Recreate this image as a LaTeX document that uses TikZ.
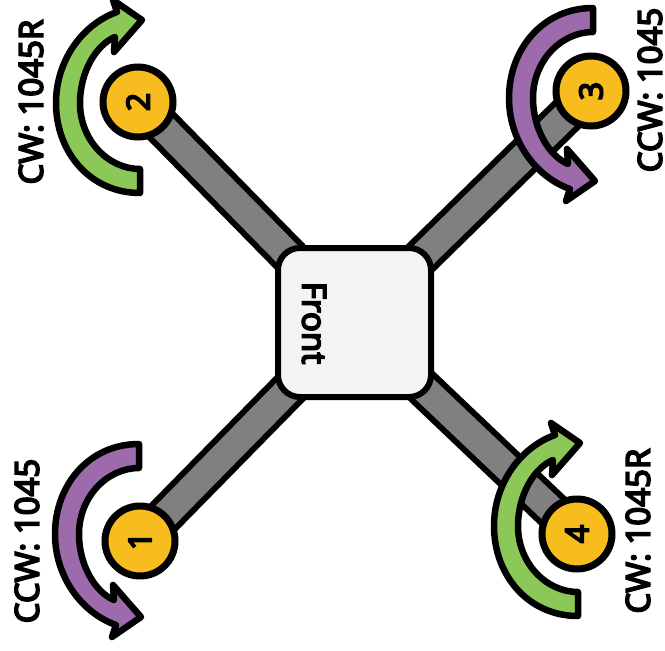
\documentclass[tikz,border=0pt]{standalone}
\usepackage{fontspec}
\setmainfont{Noto Sans}
\newfontfamily\labelfont[FakeBold=5]{Noto Sans}
\usetikzlibrary{backgrounds}
\definecolor{motorgold}{HTML}{F7BC1E}
\definecolor{spingreen}{HTML}{8CC858}
\definecolor{spinpurple}{HTML}{9D6AAB}
\definecolor{armgray}{HTML}{808080}
\definecolor{bodywhite}{HTML}{F2F4F3}
\tikzset{
	body/.style={draw, line width=6pt, fill=bodywhite, rounded corners=22pt, minimum width=153pt, minimum height=149pt},
	motor/.style={draw, circle, line width=7pt, fill=motorgold, minimum size=70pt, inner sep=0pt, font=\fontsize{32}{32}\labelfont, rotate=90},
	speclabel/.style={font=\fontsize{33}{33}\labelfont, rotate=90, inner sep=0pt},
	armline/.style={draw=black, line width=6pt, double=armgray, double distance=27pt},
	pics/spinarrow/.style={code={
		\draw[line width=6.5pt, line join=round, fill=#1] (2,91) .. controls (-48,91) and (-82,50) .. (-82,1)
			.. controls (-82,-42) and (-55,-78) .. (-21,-90) -- (-25,-102) -- (4,-82) -- (-24,-50) -- (-23,-65)
			.. controls (-42,-57) and (-58,-30) .. (-58,1) .. controls (-58,38) and (-30,67) .. (2,67) -- cycle;
	}}
}
\begin{document}
\begin{tikzpicture}[x=1pt, y=-1pt]
	\useasboundingbox (0,0) rectangle (665,651);
	% Frame and motors
	\node[body] (frame) at (354.5,322.5) {};
	\node[speclabel, rotate=180] (front) at (314,323) {Front};
	\node[motor] (motor1) at (140,541) {1};
	\node[motor] (motor2) at (138,102) {2};
	\node[motor] (motor3) at (591,91) {3};
	\node[motor] (motor4) at (577,534) {4};

	% Arms behind the frame and the motors
	\begin{pgfonlayer}{background}
		\draw[armline] (frame.center) -- (motor1.center);
		\draw[armline] (frame.center) -- (motor2.center);
		\draw[armline] (frame.center) -- (motor3.center);
		\draw[armline] (frame.center) -- (motor4.center);
	\end{pgfonlayer}

	% Spin direction
	\pic[yscale=-1] at (137,535) {spinarrow=spinpurple};
	\pic at (138,102) {spinarrow=spingreen};
	\pic[yscale=-1] at (591,99) {spinarrow=spinpurple};
	\pic at (576,525) {spinarrow=spingreen};

	% Propeller labels
	\node[speclabel] (label1) at (27,541) {CCW: 1045};
	\node[speclabel] (label2) at (31,102) {CW: 1045R};
	\node[speclabel] (label3) at (650,90) {CCW: 1045};
	\node[speclabel] (label4) at (638,531) {CW: 1045R};
\end{tikzpicture}
\end{document}
